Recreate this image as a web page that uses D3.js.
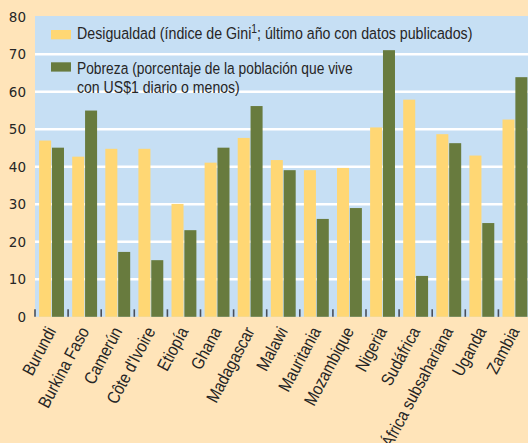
<!DOCTYPE html>
<html lang="es">
<head>
<meta charset="utf-8">
<title>Desigualdad y pobreza</title>
<script src="https://d3js.org/d3.v7.min.js"></script>
<style>
  body, html { margin: 0; padding: 0; background: #ffe4b9; }
  svg { display: block; }
  text { font-family: "Liberation Sans", Arial, sans-serif; fill: #262626; }
</style>
</head>
<body>
<div id="chart"></div>
<script>
var countries = ["Burundi", "Burkina Faso", "Camerún", "Côte d'Ivoire", "Etiopía", "Ghana", "Madagascar",
  "Malawi", "Mauritania", "Mozambique", "Nigeria", "Sudáfrica", "África subsahariana", "Uganda", "Zambia"]
var gini = [47.0, 42.7, 44.8, 44.8, 30.1, 41.1, 47.7, 41.8, 39.1, 39.7, 50.5, 57.9, 48.7, 43.0, 52.6]
var poverty = [45.1, 55.0, 17.3, 15.1, 23.1, 45.1, 56.2, 39.1, 26.1, 29.0, 71.1, 10.9, 46.3, 25.0, 63.9]
var yTicks = [0, 10, 20, 30, 40, 50, 60, 70, 80]

var width = 528, height = 443
var margin = {top: 16.8, left: 35, bottom: 316.8}

var svg = d3.select("#chart").append("svg")
  .attr("width", width)
  .attr("height", height)

svg.append("rect")
  .attr("width", width).attr("height", height)
  .attr("fill", "#ffe4b9")

var x = d3.scaleBand()
  .domain(countries)
  .range([margin.left, 531.5])
  .padding(0)

var x1 = d3.scaleBand()
  .domain(["gini", "poverty"])
  .range([0, x.bandwidth()])
  .paddingInner(0.065)
  .paddingOuter(0.32)

var y = d3.scaleLinear()
  .domain([0, 80])
  .range([margin.bottom, margin.top])

// plot background
svg.append("rect")
  .attr("x", margin.left)
  .attr("y", y(80) - 0.8)
  .attr("width", width - margin.left)
  .attr("height", y(0) - y(80) + 0.8)
  .attr("fill", "#c6dff4")

// gridlines
svg.append("g")
  .selectAll("line")
  .data(yTicks.filter(d => d > 0 && d < 80))
  .enter().append("line")
  .attr("x1", margin.left)
  .attr("x2", width)
  .attr("y1", d => y(d))
  .attr("y2", d => y(d))
  .attr("stroke", "#ffffff")
  .attr("stroke-width", 2.6)

// bars
var groups = svg.append("g")
  .selectAll("g")
  .data(countries.map((c, i) => ({country: c, gini: gini[i], poverty: poverty[i]})))
  .enter().append("g")
  .attr("transform", d => "translate(" + x(d.country) + ",0)")

groups.append("rect")
  .attr("x", x1("gini"))
  .attr("width", x1.bandwidth())
  .attr("y", d => y(d.gini))
  .attr("height", d => y(0) - y(d.gini))
  .attr("fill", "#ffd774")

groups.append("rect")
  .attr("x", x1("poverty"))
  .attr("width", x1.bandwidth())
  .attr("y", d => y(d.poverty))
  .attr("height", d => y(0) - y(d.poverty))
  .attr("fill", "#687b3e")

// tick marks at band edges, drawn upward from the baseline
svg.append("g")
  .selectAll("line")
  .data(countries)
  .enter().append("line")
  .attr("x1", d => x(d))
  .attr("x2", d => x(d))
  .attr("y1", y(0))
  .attr("y2", y(0) - 7.5)
  .attr("stroke", "#4a4f5a")
  .attr("stroke-width", 1.6)

// y axis labels
var yAxis = svg.append("g")
  .attr("transform", "translate(" + margin.left + ",0)")
  .call(d3.axisLeft(y).tickValues(yTicks).tickSize(0).tickPadding(9))
yAxis.select(".domain").remove()
yAxis.selectAll("text")
  .attr("font-size", 13.5)
  .style("font-family", "'DejaVu Sans', sans-serif")
  .attr("fill", "#262626")

// x labels, rotated and a bit condensed
svg.append("g")
  .selectAll("text")
  .data(countries)
  .enter().append("text")
  .attr("text-anchor", "end")
  .attr("font-size", 17.5)
  .attr("transform", d => "translate(" + (x(d) + x.bandwidth() / 2 + 5) + ",331) rotate(-62) scale(0.86,1)")
  .text(d => d)

// legend
var legend = svg.append("g")
legend.append("rect")
  .attr("x", 51).attr("y", 30).attr("width", 20).attr("height", 9.3)
  .attr("fill", "#ffd774")
legend.append("rect")
  .attr("x", 51).attr("y", 62.3).attr("width", 20).attr("height", 9.3)
  .attr("fill", "#687b3e")

// condensed text: squeeze each line to the width it has in the original
var fitText = function (sel, x0, y0, target) {
  var w = sel.node().getBBox().width
  sel.attr("transform", "translate(" + x0 + "," + y0 + ") scale(" + (target / w) + ",1)")
}

var l1 = legend.append("text")
  .attr("font-size", 16.5)
l1.append("tspan").text("Desigualdad (índice de Gini")
l1.append("tspan").attr("font-size", 12).attr("dy", -5.5).text("1")
l1.append("tspan").attr("dy", 5.5).text("; último año con datos publicados)")
fitText(l1, 77, 38.7, 396)

var l2 = legend.append("text")
  .attr("font-size", 16.5)
  .text("Pobreza (porcentaje de la población que vive")
fitText(l2, 77, 74, 276)

var l3 = legend.append("text")
  .attr("font-size", 16.5)
  .text("con US$1 diario o menos)")
fitText(l3, 77, 92.7, 163)
</script>
</body>
</html>
